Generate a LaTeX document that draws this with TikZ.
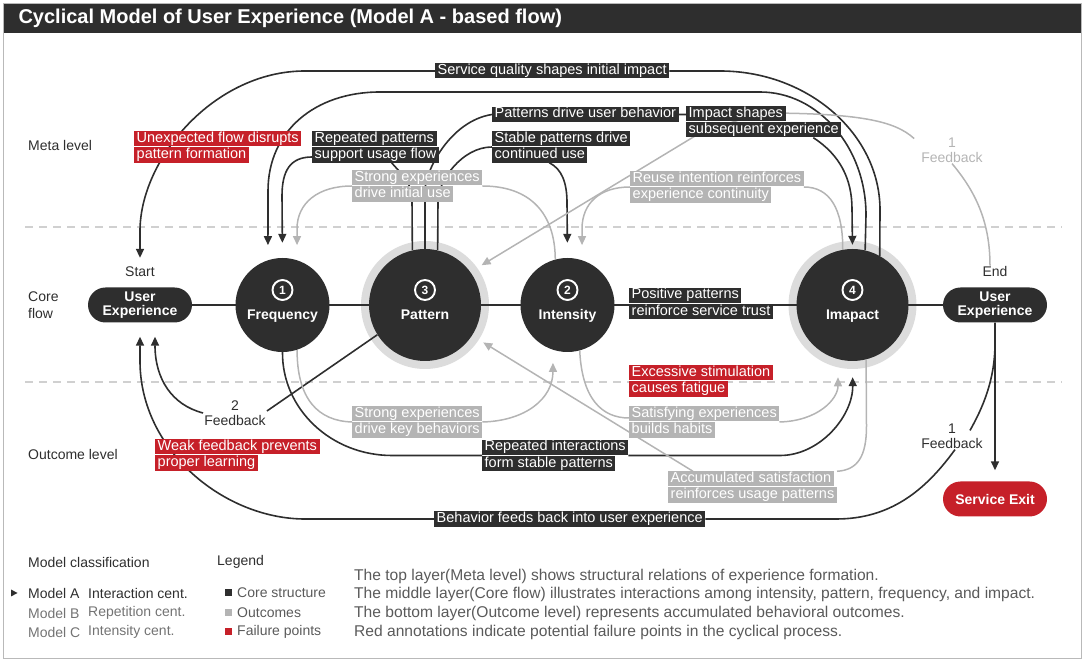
\documentclass[tikz,border=0pt]{standalone}
\usepackage{fontspec}
\setmainfont{Liberation Sans}
\usetikzlibrary{positioning,arrows.meta}
\definecolor{ink}{HTML}{2E2E2E}
\definecolor{soft}{HTML}{B4B4B4}
\definecolor{halo}{HTML}{DCDCDC}
\definecolor{alert}{HTML}{C62029}
\definecolor{dashc}{HTML}{D0D0D0}
\definecolor{note}{HTML}{5A5A5A}
\definecolor{mute}{HTML}{737373}
\pgfdeclarelayer{bg}
\pgfsetlayers{bg,main}
\setlength{\fboxsep}{0.5pt}
\newcommand{\tagbox}[2]{\colorbox{#1}{\hspace{2pt}\rule[-3.5pt]{0pt}{14pt}#2\hspace{2pt}}}
\begin{document}
\begin{tikzpicture}[x=1pt, y=1pt, node distance=142.5pt, >={Triangle[length=9pt,width=8pt]},
  core/.style={circle, fill=ink, minimum size=94pt, inner sep=0pt},
  big/.style={minimum size=112pt},
  pill/.style={rectangle, rounded corners=17.5pt, fill=ink, text=white, minimum width=104pt, minimum height=35pt, inner sep=0pt, align=center, font=\bfseries\fontsize{14}{14.5}\selectfont},
  num/.style={circle, draw=white, line width=1.9pt, minimum size=20pt, inner sep=0pt, text=white, font=\bfseries\fontsize{12}{12}\selectfont},
  cname/.style={anchor=base, text=white, inner sep=0pt, font=\bfseries\fontsize{14}{14}\selectfont},
  lab/.style={anchor=west, inner sep=0pt, align=left, text=white, font=\fontsize{14.5}{15}\selectfont},
  fb/.style={inner sep=1pt, align=center, text=ink, font=\fontsize{14}{15}\selectfont},
  tag/.style={inner sep=1pt, text=ink, font=\fontsize{14}{14}\selectfont},
  lvl/.style={anchor=west, inner sep=0pt, align=left, text=ink, font=\fontsize{14}{17}\selectfont},
  keytxt/.style={anchor=west, inner sep=0pt, font=\fontsize{14}{14}\selectfont},
  desc/.style={keytxt, text=note, font=\fontsize{15.6}{15.6}\selectfont},
  flow/.style={line width=1.6pt, draw=ink},
  arr/.style={flow, ->},
  gflow/.style={line width=1.5pt, draw=soft},
  garr/.style={gflow, ->},
  lvlsep/.style={line width=1.2pt, draw=dashc, dash pattern=on 8pt off 6pt}]
\useasboundingbox (0,0) rectangle (1084,661);
\fill[ink] (3,628) rectangle (1081,658);
\draw[gray!55, line width=0.8pt] (3,3) rectangle (1081,658);
\node[anchor=west, text=white, font=\bfseries\fontsize{20}{20}\selectfont] (title) at (15,643) {Cyclical Model of User Experience (Model A - based flow)};

\node[lvl] (meta) at (28,515) {Meta level};
\node[lvl] (corel) at (28,356) {Core\\flow};
\node[lvl] (outl) at (28,207) {Outcome level};

\node[pill] (UEs) at (140,356) {User\\Experience};
\node[core] (Fr) [right of=UEs] {};
\node[core, big] (Pa) [right of=Fr] {};
\node[core] (In) [right of=Pa] {};
\node[core, big] (Im) [right of=In, xshift=142.5pt] {};
\node[pill] (UEe) [right of=Im] {User\\Experience};
\node[pill, fill=alert] (Ex) [node distance=194pt, below of=UEe] {Service Exit};
\node[tag] (St) [node distance=33pt, above of=UEs] {Start};
\node[tag] (En) [node distance=33pt, above of=UEe] {End};

\node[num] (n1) at ([yshift=15pt]Fr.center) {1};
\node[cname] (t1) at ([yshift=-15pt]Fr.center) {Frequency};
\node[num] (n3) at ([yshift=15pt]Pa.center) {3};
\node[cname] (t3) at ([yshift=-15pt]Pa.center) {Pattern};
\node[num] (n2) at ([yshift=15pt]In.center) {2};
\node[cname] (t2) at ([yshift=-15pt]In.center) {Intensity};
\node[num] (n4) at ([yshift=15pt]Im.center) {4};
\node[cname] (t4) at ([yshift=-15pt]Im.center) {Imapact};

\node[lab] (lSQ) at (435,590) {\tagbox{ink}{Service quality shapes initial impact}};
\node[lab] (lUF) at (134,514) {\tagbox{alert}{Unexpected flow disrupts}\\\tagbox{alert}{pattern formation}};
\node[lab] (lRP) at (312,514) {\tagbox{ink}{Repeated patterns}\\\tagbox{ink}{support usage flow}};
\node[lab] (lPD) at (492,546.5) {\tagbox{ink}{Patterns drive user behavior}};
\node[lab] (lSP) at (492,514) {\tagbox{ink}{Stable patterns drive}\\\tagbox{ink}{continued use}};
\node[lab] (lIS) at (686,539) {\tagbox{ink}{Impact shapes}\\\tagbox{ink}{subsequent experience}};
\node[lab] (lSI) at (352,475) {\tagbox{soft}{Strong experiences}\\\tagbox{soft}{drive initial use}};
\node[lab] (lRI) at (630,474) {\tagbox{soft}{Reuse intention reinforces}\\\tagbox{soft}{experience continuity}};
\node[lab] (lPP) at (629,357.5) {\tagbox{ink}{Positive patterns}\\\tagbox{ink}{reinforce service trust}};
\node[lab] (lES) at (629,280) {\tagbox{alert}{Excessive stimulation}\\\tagbox{alert}{causes fatigue}};
\node[lab] (lSH) at (629,239) {\tagbox{soft}{Satisfying experiences}\\\tagbox{soft}{builds habits}};
\node[lab] (lSK) at (352,239) {\tagbox{soft}{Strong experiences}\\\tagbox{soft}{drive key behaviors}};
\node[lab] (lRF) at (482,205.5) {\tagbox{ink}{Repeated interactions}\\\tagbox{ink}{form stable patterns}};
\node[lab] (lAS) at (668,174) {\tagbox{soft}{Accumulated satisfaction}\\\tagbox{soft}{reinforces usage patterns}};
\node[lab] (lBF) at (434,142) {\tagbox{ink}{Behavior feeds back into user experience}};
\node[lab] (lWF) at (155,206) {\tagbox{alert}{Weak feedback prevents}\\\tagbox{alert}{proper learning}};
\node[fb, text=soft] (lF1) at (952,511) {1\\Feedback};
\node[fb] (lF2) at (235,248) {2\\Feedback};
\node[fb] (lF1b) at (952,225) {1\\Feedback};

\begin{pgfonlayer}{bg}
\fill[halo] (Pa) circle (64pt);
\fill[halo] (Im) circle (64pt);
\draw[lvlsep] (25,434) -- (1062,434);
\draw[lvlsep] (25,279) -- (1062,279);
\draw[flow] (UEs) -- (UEe);
\draw[arr, shorten >=8pt] (Im.61) -- (880,451) .. controls (880,527) and (808,590) .. (720,590) -- (lSQ.east) (lSQ.west) -- (305,590) .. controls (214,590) and (140,502) .. (140,430) -- (St.north);
\draw[arr, shorten >=15pt] (Im.77) -- (866,446) .. controls (866,514) and (818,569) .. (760,569) -- (380,569) .. controls (315,569) and (268,530) .. (268,470) -- (Fr.108);
\draw[arr, shorten >=15pt] (Pa.103) -- (412,461) .. controls (412,480) and (400,488) .. (391,499) ([yshift=-10pt]lRP.west) .. controls (290,504) and (282,490) .. (282,465) -- (Fr.north);
\draw[arr, shorten >=4pt] (Pa.north) -- (425,470) .. controls (425,490) and (450,540) .. (lPD.west) (lPD.east) -- (lIS.west |- lPD.east) ([xshift=-28pt]lIS.south east) .. controls (840,506) and (852,482) .. (852,452) -- (Im.north);
\draw[arr, shorten >=15pt] (Pa.77) -- (438,460) .. controls (438,480) and (462,514) .. (lSP.west) ([xshift=-12pt]lSP.south) .. controls (562,492) and (567,478) .. (567,458) -- (In.north);
\draw[garr, shorten >=15pt] (In.105) .. controls (555,448) and (530,475) .. (lSI.east) (lSI.west) .. controls (318,475) and (297,458) .. (297,432) -- (Fr.72);
\draw[garr, shorten >=15pt] (Im.100) .. controls (843,452) and (830,474) .. (lRI.east) (lRI.west) .. controls (600,474) and (582,458) .. (582,432) -- (In.72);
\draw[garr, shorten <=8pt, shorten >=13pt] ([xshift=-5pt]En.north) .. controls (990,440) and (975,470) .. (lF1.south) ([yshift=6pt]lF1.west) .. controls (895,540) and (860,548) .. (760,548) -- (700,528) -- (Pa.36);
\draw[arr, shorten >=14pt] (Pa.212) -- ([yshift=2pt]lF2.east) (lF2.west) .. controls (172,256) and (155,282) .. ([xshift=15pt]UEs.south);
\draw[arr, shorten >=14pt] (UEe.south) -- (995,318) .. controls (995,280) and (982,252) .. ([xshift=18pt,yshift=-8pt]lF1b.north) ([xshift=3pt]lF1b.south) .. controls (925,170) and (890,142) .. (836,142) -- (lBF.east) (lBF.west) -- (305,142) .. controls (225,142) and (140,210) .. (140,300) -- (UEs.south);
\draw[arr, shorten >=11pt] (UEe.south) -- (Ex.north);
\draw[arr, shorten >=16pt] (Fr.south) .. controls (282,252) and (331,205.5) .. (392,205.5) -- (lRF.west) (lRF.east) -- (780,205.5) .. controls (820,205.5) and (853,245) .. (Im.south);
\draw[garr, shorten >=13pt] (Fr.-72) .. controls (297,262) and (318,240) .. (lSK.west) (lSK.east) .. controls (525,240) and (553,262) .. (In.-108);
\draw[garr, shorten >=18pt] (In.-75) .. controls (582,262) and (602,243) .. ([yshift=4pt]lSH.west) (lSH.east) .. controls (818,240) and (838,262) .. (Im.-105);
\draw[garr, shorten >=13pt] (Im.-76) -- (866.5,235) .. controls (866.5,205) and (858,191) .. (lAS.north east) ([xshift=25pt]lAS.north west) -- (Pa.-33);
\end{pgfonlayer}

\node[keytxt, text=ink] (mc) at (28,99) {Model classification};
\fill[ink] (11,64.5) -- (17.5,68) -- (11,71.5) -- cycle;
\node[keytxt, text=ink] (mA) at (28,68) {Model A};
\node[keytxt, text=ink] (iA) at (88,68) {Interaction cent.};
\node[keytxt, text=mute] (mB) at (28,48) {Model B};
\node[keytxt, text=mute] (iB) at (88,48) {Repetition cent.};
\node[keytxt, text=mute] (mC) at (28,29) {Model C};
\node[keytxt, text=mute] (iC) at (88,29) {Intensity cent.};
\node[keytxt, text=ink] (lg) at (217,99) {Legend};
\fill[ink] (225,64.5) rectangle (232,71.5);
\fill[soft] (225,44.5) rectangle (232,51.5);
\fill[alert] (225,25.5) rectangle (232,32.5);
\node[keytxt, text=note] (k1) at (237,68) {Core structure};
\node[keytxt, text=note] (k2) at (237,48) {Outcomes};
\node[keytxt, text=note] (k3) at (237,29) {Failure points};
\node[desc] (d1) at (354,85) {The top layer(Meta level) shows structural relations of experience formation.};
\node[desc] (d2) at (354,67) {The middle layer(Core flow) illustrates interactions among intensity, pattern, frequency, and impact.};
\node[desc] (d3) at (354,48) {The bottom layer(Outcome level) represents accumulated behavioral outcomes.};
\node[desc] (d4) at (354,29) {Red annotations indicate potential failure points in the cyclical process.};
\end{tikzpicture}
\end{document}
